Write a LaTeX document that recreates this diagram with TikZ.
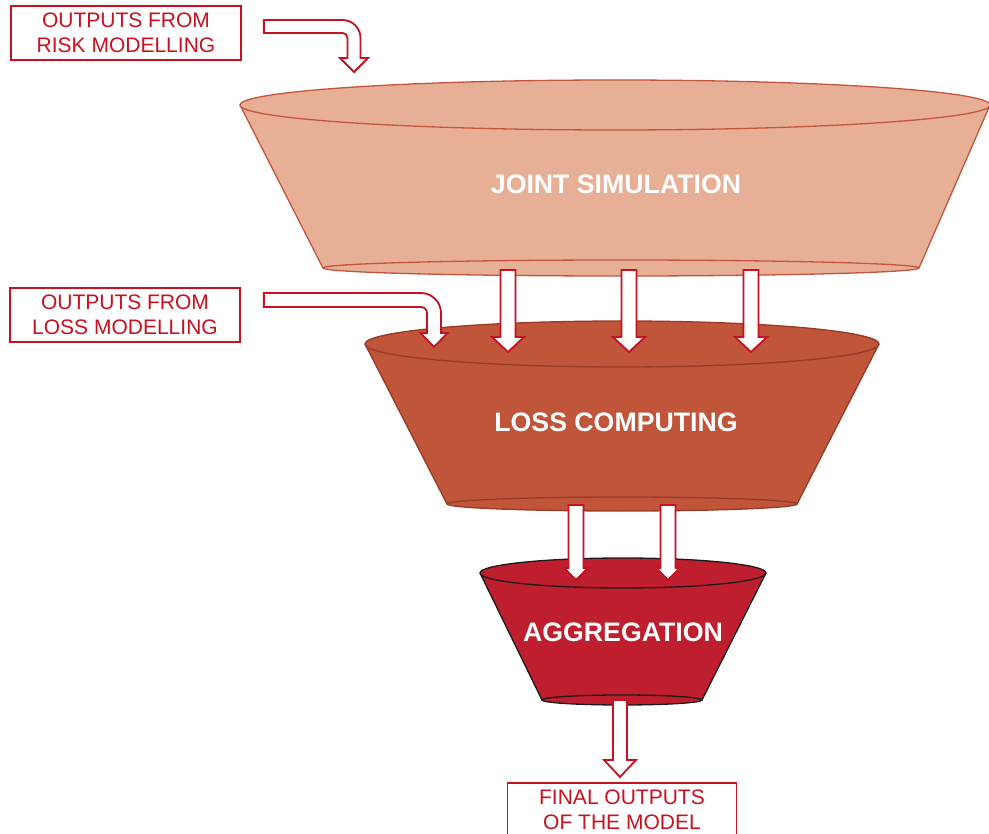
\documentclass[tikz,border=0pt]{standalone}
\usepackage{fontspec}
\setmainfont{Liberation Sans}
\usepackage{tikz}
\usetikzlibrary{calc}
\definecolor{jointfill}{HTML}{E8AF97}
\definecolor{jointline}{HTML}{C4553C}
\definecolor{lossfill}{HTML}{C0553A}
\definecolor{lossline}{HTML}{983A25}
\definecolor{aggfill}{HTML}{BE1E2D}
\definecolor{aggline}{HTML}{1A1A1A}
\definecolor{boxred}{HTML}{C8101E}
\tikzstyle{outbox} = [draw=boxred,line width=1.7pt,text=boxred,align=center,minimum width=230pt,minimum height=54pt,inner sep=0pt,font=\fontsize{21}{25}\selectfont]
\tikzstyle{blockarrow} = [draw=boxred,fill=white,line width=1.8pt,line join=miter]
\tikzstyle{stage} = [text=white,font=\fontsize{26.7}{31}\selectfont\bfseries]
% straight block arrow going down: from, to, half shaft, half head, head length
\newcommand{\blockdown}[5]{%
	\draw[blockarrow] let \p1=(#1), \p2=(#2) in
	({\x1-#3},\y1) -- ({\x1-#3},{\y2+#5}) -- ({\x1-#4},{\y2+#5}) -- (\x1,\y2)
	-- ({\x1+#4},{\y2+#5}) -- ({\x1+#3},{\y2+#5}) -- ({\x1+#3},\y1) -- cycle;}
% bent block arrow: right, then down
\newcommand{\blockbent}[6]{%
	\draw[blockarrow] let \p1=(#1), \p2=(#2) in
	(\x1,{\y1+#3}) -- ({\x2+#3-#6},{\y1+#3})
	.. controls ({\x2+#3-0.45*#6},{\y1+#3}) and ({\x2+#3},{\y1+#3-0.45*#6}) .. ({\x2+#3},{\y1+#3-#6})
	-- ({\x2+#3},{\y2+#5}) -- ({\x2+#4},{\y2+#5}) -- (\x2,\y2) -- ({\x2-#4},{\y2+#5}) -- ({\x2-#3},{\y2+#5})
	-- ({\x2-#3},{\y1+#3-#6})
	.. controls ({\x2-#3},{\y1+#3-#6+0.55*(#6-2*#3)}) and ({\x2+#3-#6+0.55*(#6-2*#3)},{\y1-#3}) .. ({\x2+#3-#6},{\y1-#3})
	-- (\x1,{\y1-#3}) -- cycle;}

\begin{document}
\begin{tikzpicture}[x=1pt,y=1pt]
	\useasboundingbox (0,0) rectangle (989,-834);
	% the three funnels
	\foreach \Tx/\Ty/\Rxa/\Rya/\Bx/\By/\Rxb/\Ryb/\Fc/\Lc in
	{615/-105/375/25/621/-268/298/8/jointfill/jointline,
	 622/-344/257/23/622/-504/175/7/lossfill/lossline,
	 623/-573/143/15/622/-700/80/5/aggfill/aggline}
	{
		\fill[\Fc] ({\Tx-\Rxa},\Ty) -- ({\Bx-\Rxb},\By)
		arc[start angle=180,end angle=360,x radius=\Rxb,y radius=\Ryb]
		-- ({\Tx+\Rxa},\Ty) -- cycle;
		\draw[\Lc,line width=1.3pt] ({\Tx-\Rxa},\Ty) -- ({\Bx-\Rxb},\By)
		({\Tx+\Rxa},\Ty) -- ({\Bx+\Rxb},\By);
		\draw[\Lc,line width=1.3pt,fill=\Fc] (\Bx,\By) ellipse[x radius=\Rxb,y radius=\Ryb];
		\draw[\Lc,line width=1.3pt,fill=\Fc] (\Tx,\Ty) ellipse[x radius=\Rxa,y radius=\Rya];
	}
	\node[stage] (js) at (616,-184) {JOINT SIMULATION};
	\node[stage] (lc) at (616,-422) {LOSS COMPUTING};
	\node[stage] (agg) at (623,-632) {AGGREGATION};
	% inputs and output
	\node[outbox] (risk) at (126,-33) {OUTPUTS FROM\\RISK MODELLING};
	\node[outbox] (loss) at (125,-315) {OUTPUTS FROM\\LOSS MODELLING};
	\node[outbox,minimum width=229pt] (final) at (622,-810) {FINAL OUTPUTS\\OF THE MODEL};
	% arrows
	\coordinate (risk-out) at ([xshift=22pt,yshift=6.5pt]risk.east);
	\coordinate (js-in) at (354,-72);
	\blockbent{risk-out}{js-in}{6.5pt}{14pt}{14pt}{18pt}
	\coordinate (loss-out) at ([xshift=23pt,yshift=15pt]loss.east);
	\coordinate (lc-in) at (434,-347);
	\blockbent{loss-out}{lc-in}{7pt}{13.5pt}{14pt}{20pt}
	\foreach \i/\Xc in {1/508,2/629,3/751}
	{
		\coordinate (js-out\i) at (\Xc,-270);
		\coordinate (lc-in\i) at (\Xc,-352);
		\blockdown{js-out\i}{lc-in\i}{7.5pt}{16pt}{15pt}
	}
	\foreach \i/\Xc in {1/576,2/668}
	{
		\coordinate (lc-out\i) at (\Xc,-505);
		\coordinate (agg-in\i) at (\Xc,-580);
		\blockdown{lc-out\i}{agg-in\i}{7.5pt}{11.7pt}{12pt}
	}
	\coordinate (agg-out) at (620,-700);
	\coordinate (final-in) at (620,-777);
	\blockdown{agg-out}{final-in}{7pt}{16pt}{17pt}
\end{tikzpicture}
\end{document}
